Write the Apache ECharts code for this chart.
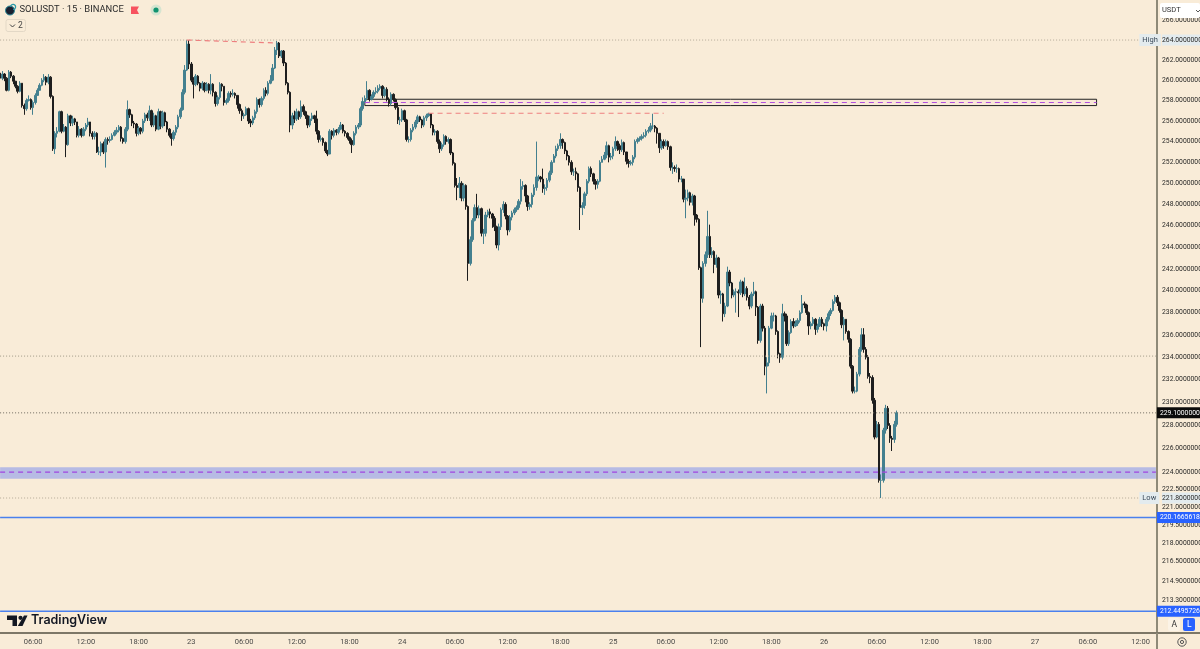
<!DOCTYPE html>
<html>
<head>
<meta charset="utf-8">
<title>SOLUSDT 15m</title>
<style>html,body{margin:0;padding:0;background:#f9ecd8}#chart{width:1200px;height:649px}</style>
<script src="https://cdn.jsdelivr.net/npm/echarts@6/dist/echarts.min.js"></script>
</head>
<body>
<div id="chart"></div>
<script>
// SOLUSDT 15-minute candles, 22 Sep 02:15 to 26 Sep 08:15
const firstOpen = 260.7;
const closes = [
260.2,260.6,260.2,259.0,260.8,260.4,259.9,259.4,258.9,259.7,
257.5,257.2,258.0,258.1,257.3,257.8,258.5,259.0,259.5,260.0,
260.3,259.8,260.3,258.4,253.3,254.8,255.0,256.9,255.0,255.4,
253.7,256.5,255.8,256.2,255.9,254.6,255.2,254.6,255.2,255.6,
255.9,254.8,254.5,254.8,253.0,253.0,253.8,253.0,254.2,254.1,
254.2,254.6,254.9,255.1,255.4,254.3,254.0,255.2,257.1,256.6,
255.8,255.7,254.8,255.3,255.0,256.0,256.6,256.3,257.0,255.6,
256.5,255.2,256.9,255.5,256.8,255.9,255.2,254.6,254.3,254.9,
255.4,256.4,257.1,258.8,261.0,263.6,261.6,260.0,259.6,260.4,
259.7,259.2,259.7,259.0,259.6,259.0,259.6,258.8,257.7,258.3,
259.6,259.4,257.8,258.0,258.7,258.6,258.7,258.5,257.6,257.0,
256.5,256.6,257.2,256.0,255.8,256.3,256.9,258.1,257.6,258.2,
259.0,258.7,259.7,260.0,261.2,263.0,263.7,262.4,262.9,261.7,
259.7,258.8,255.6,256.5,256.2,256.9,256.4,257.4,256.9,256.5,
255.6,256.2,256.5,256.2,255.0,254.2,254.3,253.9,253.1,252.8,
255.0,254.6,255.1,254.9,255.2,255.6,255.0,254.8,254.4,254.1,
253.7,254.8,255.4,255.6,257.2,257.9,258.2,259.0,258.1,258.4,
258.8,258.9,259.2,259.4,258.5,259.1,258.1,257.7,258.6,258.1,
257.3,256.1,256.1,257.0,256.1,254.2,254.2,255.1,255.4,255.9,
256.4,256.1,255.6,256.3,256.5,256.7,255.6,254.9,255.0,254.0,
253.3,253.7,254.5,254.0,254.2,252.9,251.9,249.8,249.6,250.0,
248.6,249.8,247.8,242.5,244.7,246.5,247.7,247.0,247.6,245.3,
245.3,247.0,247.3,247.1,246.7,245.9,244.2,245.9,247.5,248.0,
246.9,245.6,246.8,247.2,247.5,247.7,248.3,249.7,249.8,248.8,
247.8,248.0,248.9,249.6,250.6,250.6,250.4,249.5,249.6,250.3,
251.0,252.0,252.6,253.3,253.6,254.2,253.9,253.1,252.6,252.0,
251.1,251.1,250.9,249.6,247.7,247.9,249.0,250.2,251.4,250.9,
250.2,249.9,250.2,252.0,252.3,252.7,253.6,252.5,252.6,253.3,
254.0,253.6,253.2,253.9,253.0,252.1,251.9,252.0,252.5,254.0,
254.2,254.3,254.5,254.6,255.0,255.1,255.5,255.5,255.3,254.8,
253.4,254.0,253.6,254.0,253.5,251.5,251.5,251.4,251.4,250.4,
250.4,248.5,248.6,249.1,248.2,248.8,247.0,246.6,242.1,239.3,
242.5,243.3,245.0,243.3,243.6,242.4,243.0,239.6,239.7,237.9,
238.6,241.7,240.7,239.6,239.9,239.9,239.8,240.8,239.7,240.2,
239.4,238.6,239.7,239.9,238.5,235.5,238.6,236.6,233.2,233.5,
236.6,237.7,237.7,236.3,234.3,234.0,237.9,237.7,235.2,236.2,
237.2,236.8,237.0,237.3,238.0,238.8,238.7,238.0,236.8,237.0,
237.4,236.5,236.8,237.4,237.0,236.8,237.4,237.9,238.2,239.0,
239.4,238.9,238.2,236.9,237.4,236.3,235.6,233.2,231.0,231.0,
232.5,234.7,236.0,234.7,234.0,232.3,232.2,230.2,227.0,228.1,
223.3,223.3,227.6,229.5,228.0,226.9,226.8,228.1,229.1
];
const highs = [
261.2,260.9,260.7,260.3,261.0,260.9,260.5,259.9,259.5,259.9,
259.7,257.7,258.2,258.5,258.2,258.0,258.7,259.2,259.7,260.2,
260.6,260.4,260.6,260.4,258.5,255.0,255.4,257.0,257.0,255.7,
255.5,256.7,256.6,256.5,256.3,255.9,255.5,255.3,255.4,255.8,
256.3,255.9,255.0,255.0,254.9,253.5,254.0,254.0,254.4,254.4,
254.5,254.8,255.1,255.4,255.6,255.5,254.4,255.4,258.0,257.2,
256.7,256.0,255.8,255.5,255.4,256.2,256.8,256.8,257.5,257.1,
256.8,256.6,257.2,257.0,257.0,256.9,256.0,255.3,254.8,255.1,
255.6,256.6,257.3,259.1,261.5,264.0,264.0,261.8,260.3,260.6,
260.5,259.8,259.9,259.8,259.8,259.7,260.6,259.7,258.9,258.5,
259.8,259.7,259.4,258.2,258.9,258.9,259.1,258.8,258.5,257.7,
257.2,256.8,257.4,257.3,256.2,256.5,257.1,258.3,258.2,258.4,
259.2,259.3,259.9,260.5,261.6,263.3,263.9,263.8,263.0,263.0,
261.8,259.8,258.9,256.8,257.0,257.2,257.0,258.0,257.6,257.0,
256.6,256.5,256.8,256.6,257.0,255.1,254.6,254.4,254.0,253.2,
255.2,255.1,255.3,255.2,255.4,255.9,255.7,255.1,254.9,254.5,
254.3,255.0,255.6,255.8,257.4,258.3,258.5,259.9,259.1,258.6,
259.0,259.3,259.5,259.6,259.5,259.3,259.3,258.3,258.8,258.7,
258.2,257.8,256.4,257.2,257.1,256.2,254.5,255.3,255.7,256.1,
256.6,256.5,256.2,256.5,256.7,256.8,256.7,255.7,255.2,255.1,
254.2,253.9,254.7,254.6,254.4,254.3,253.0,252.0,250.5,250.6,
250.2,250.0,249.9,247.9,245.0,246.7,248.0,249.0,247.9,247.7,
245.7,247.3,247.5,247.6,247.2,246.9,246.0,246.2,247.7,248.3,
248.2,247.0,247.0,247.4,247.7,247.9,248.5,250.4,250.2,249.9,
248.9,248.2,249.1,249.9,254.0,250.8,250.7,251.4,249.9,250.5,
251.2,252.2,252.8,253.6,253.8,254.8,254.3,254.0,253.2,252.7,
252.2,251.4,251.5,251.0,249.7,248.2,249.2,250.4,251.6,251.6,
251.0,250.4,250.4,252.2,252.6,253.0,254.0,253.7,252.9,253.5,
254.5,254.1,253.8,254.2,254.0,253.0,252.3,252.2,252.7,254.2,
254.4,254.5,254.7,254.9,255.2,255.4,255.8,256.7,255.6,255.4,
254.8,254.2,254.2,254.2,254.1,253.6,252.0,251.7,251.8,251.5,
250.7,250.4,249.4,249.4,249.2,249.0,248.9,247.1,246.7,242.2,
242.7,243.6,247.4,246.1,244.0,243.7,243.3,243.1,240.0,239.8,
238.9,242.2,241.9,240.8,240.1,240.2,240.1,241.0,240.9,241.2,
240.4,239.6,239.9,240.8,240.0,238.6,238.8,238.8,236.8,234.0,
236.8,238.0,238.0,237.8,236.4,234.4,238.8,238.1,237.9,236.4,
237.4,237.5,237.3,237.5,238.2,239.6,239.0,238.8,238.1,237.2,
237.6,237.5,237.0,237.6,237.6,237.1,237.6,238.1,238.4,239.2,
239.6,239.6,239.0,238.3,237.6,237.4,236.4,235.7,233.3,231.4,
232.7,234.9,236.6,236.6,234.9,234.2,232.6,232.4,230.4,228.4,
228.3,223.8,227.8,229.8,229.7,228.2,227.1,228.4,229.3
];
const lows = [
260.0,260.0,259.9,258.9,258.9,260.2,259.6,259.2,258.7,258.8,
257.3,256.6,257.0,257.9,257.1,256.6,257.6,258.8,259.3,259.4,
259.8,259.5,259.6,258.2,253.1,252.8,254.4,254.9,254.8,254.9,
252.5,253.6,255.5,255.5,255.6,254.4,254.4,254.4,254.5,255.0,
255.4,254.5,254.2,254.2,252.9,252.7,252.6,252.8,251.5,253.7,
253.9,254.1,254.5,254.7,254.9,254.0,253.8,253.8,255.0,256.3,
255.5,255.3,254.5,254.6,254.7,254.8,255.8,256.0,256.0,255.4,
255.4,255.0,255.1,255.2,255.3,255.5,254.9,254.4,253.6,254.1,
254.6,255.2,256.2,257.0,258.6,260.9,261.1,259.8,258.2,259.4,
259.5,258.9,259.0,258.8,258.9,258.7,258.6,258.4,257.4,257.5,
258.1,258.9,257.5,257.6,257.8,258.3,258.4,258.2,257.2,256.7,
256.0,256.2,256.5,255.7,255.4,255.6,256.1,256.7,257.3,257.4,
258.0,258.4,258.5,259.6,259.9,261.1,262.5,262.2,262.2,261.4,
259.5,258.6,254.9,255.2,255.8,256.0,256.1,256.2,256.6,256.2,
255.3,255.4,256.0,255.8,254.7,253.9,254.0,253.6,252.9,252.6,
252.8,254.2,254.4,254.6,254.7,255.1,254.8,254.5,254.2,253.8,
252.9,253.6,254.6,255.2,255.4,257.0,257.7,258.0,257.9,258.0,
258.2,258.6,258.7,259.0,258.2,258.3,257.9,257.4,257.5,257.9,
257.1,255.7,255.6,255.9,255.9,254.0,253.9,254.0,254.9,255.2,
255.7,255.9,255.3,255.4,256.0,256.4,255.3,254.6,254.6,253.8,
252.9,253.1,253.5,253.7,253.8,252.7,251.7,249.6,248.4,248.6,
248.3,248.3,247.5,240.9,242.3,244.5,246.4,246.7,246.7,245.0,
244.3,245.0,246.8,246.7,245.8,245.5,243.9,243.7,245.6,247.2,
246.6,245.1,245.4,246.5,247.0,247.3,247.5,248.0,249.4,248.2,
247.4,247.5,247.7,248.7,249.3,250.2,250.1,249.1,248.9,249.3,
250.1,250.8,252.2,252.4,253.1,253.3,253.3,252.8,252.2,251.7,
250.8,250.7,250.3,249.2,245.6,247.0,247.6,248.8,250.0,250.6,
249.9,249.4,249.5,250.1,252.0,252.2,252.4,252.0,252.2,252.3,
253.1,253.1,252.8,253.0,252.7,251.8,251.5,251.7,251.7,252.3,
253.8,254.0,254.1,254.3,254.4,254.8,254.9,255.2,254.9,253.8,
252.9,253.2,253.3,253.5,253.2,251.2,250.9,251.1,251.0,250.1,
250.1,248.2,246.7,248.3,247.9,247.9,246.0,246.3,241.9,234.9,
238.9,242.2,243.0,243.0,243.0,241.6,242.1,239.3,238.8,237.2,
237.6,238.5,240.4,239.3,239.4,238.0,237.6,239.6,239.4,239.5,
239.1,238.3,238.4,239.5,237.7,235.2,235.3,236.3,232.4,230.8,
233.2,236.5,237.2,236.0,233.9,233.5,233.8,237.2,235.0,235.0,
236.1,236.6,236.7,236.8,237.1,237.9,238.4,237.8,236.0,236.5,
236.8,236.0,236.2,236.7,236.7,236.4,236.3,237.2,237.7,238.1,
238.8,238.6,238.0,236.6,235.5,236.1,235.3,233.0,230.8,230.8,
230.9,232.3,234.5,234.4,233.8,232.1,231.7,229.9,226.8,226.9,
223.1,221.8,223.1,227.3,227.7,226.5,225.8,226.5,227.9
];

// Price scale ticks (the scale is logarithmic, with extra ticks near the low)
const priceTicks = [266,264,262,260,258,256,254,252,250,248,246,244,242,240,238,236,234,232,230,228,226,224,222.5,221.8,221,219.5,218,216.5,214.9,213.3];
const highlightedTicks = [264,221.8];

// Key levels
const sessionHigh = 264, sessionLow = 221.8, lastPrice = 229.1;
const midLevel = 234.1;
const supportZone = [224.42, 223.43], supportMid = 224;
const supplyBox = [258.12, 257.5], supplyMid = 257.8;
const fibA = 220.1665618, fibB = 212.4495726;

// Time axis: one slot per 15 minutes, starting at 22nd 02:15
const slotCount = 527;
const slots = [];
for (let i = 0; i < slotCount; i++) {
  const minutes = 2 * 60 + 15 + i * 15;
  const day = 22 + Math.floor(minutes / 1440);
  const m = minutes % 1440;
  const hh = String(Math.floor(m / 60)).padStart(2, '0');
  const mm = String(m % 60).padStart(2, '0');
  slots.push(day + ' ' + hh + ':' + mm);
}
function timeLabel(slot) {
  const [day, hm] = slot.split(' ');
  if (hm === '00:00') return day;
  return ['06:00', '12:00', '18:00'].includes(hm) ? hm : '';
}

const candles = closes.map((c, i) => {
  const o = i ? closes[i - 1] : firstOpen;
  return [o, c, Math.min(lows[i], o, c), Math.max(highs[i], o, c)];
});

const lastSlot = slotCount - 1;
const dotted = (color) => ({ type: [1, 2], color, width: 1 });
const dashed = (color) => ({ type: [5, 4], color, width: 1.2 });
const solid = (color) => ({ type: 'solid', color, width: 1.4 });
const tag = (bg, fg, text) => ({
  show: true, distance: 1, formatter: text, color: fg, backgroundColor: bg,
  fontFamily: 'Roboto', fontSize: 6.8, padding: [2, 8, 2, 3]
});
const sideNote = (text) => ({
  show: true, distance: 1, formatter: text, color: '#3b4a5a', backgroundColor: '#e3ebee',
  fontFamily: 'Roboto', fontSize: 7.5, padding: [2, 3, 2, 3]
});
// A straight annotation between two points on the price scale
const segment = (x0, v0, x1, v1, lineStyle, label) => ({
  type: 'line',
  data: [[x0, v0], [x1, v1]],
  symbol: 'none',
  silent: true,
  animation: false,
  lineStyle,
  endLabel: label || { show: false },
  labelLayout: { hideOverlap: false }
});

const chart = echarts.init(document.getElementById('chart'), null, { renderer: 'canvas' });
chart.setOption({
  animation: false,
  backgroundColor: '#f9ecd8',
  grid: { left: -1, right: 43, top: 0, bottom: 16, outerBoundsMode: 'none', containLabel: false },
  xAxis: {
    type: 'category',
    data: slots,
    boundaryGap: true,
    axisLine: { lineStyle: { color: '#7d7767', width: 2 } },
    axisTick: { show: false },
    splitLine: { show: false },
    axisLabel: {
      interval: (i, v) => timeLabel(v) !== '',
      formatter: timeLabel,
      color: '#4a4a48',
      fontFamily: 'Roboto',
      fontSize: 7.5,
      margin: 5,
      hideOverlap: false
    }
  },
  yAxis: {
    type: 'log',
    logBase: 10,
    position: 'right',
    min: 210.7,
    max: 268.05,
    axisLine: { show: true, onZero: false, lineStyle: { color: '#8f8a78', width: 2 } },
    axisTick: { show: false },
    splitLine: { show: false },
    minorTick: { show: false },
    axisLabel: {
      customValues: priceTicks,
      formatter: (v) => {
        const t = Number(v).toFixed(7);
        return highlightedTicks.some((h) => Math.abs(h - v) < 0.01) ? '{hl|' + t + '}' : t;
      },
      rich: { hl: { backgroundColor: '#e3ebee', color: '#2a2a28', fontFamily: 'Roboto', fontSize: 6.8, padding: [2, 0, 2, 0] } },
      color: '#2a2a28',
      fontFamily: 'Roboto',
      fontSize: 6.8,
      margin: 5,
      showMinLabel: true,
      showMaxLabel: true
    }
  },
  series: [
    {
      type: 'candlestick',
      data: candles,
      barWidth: 2,
      itemStyle: {
        color: '#44808f',
        color0: '#1e1e1e',
        borderColor: '#44808f',
        borderColor0: '#1e1e1e',
        borderWidth: 1
      },
      markArea: {
        silent: true,
        data: [
          [{ coord: [0, supportZone[0]], itemStyle: { color: '#b7bbe4' } }, { coord: [lastSlot, supportZone[1]] }],
          [{ coord: [166, supplyBox[0]], itemStyle: { color: 'rgba(249,225,215,0.4)', borderColor: '#222', borderWidth: 1 } }, { coord: [499, supplyBox[1]] }]
        ]
      }
    },
    segment(0, sessionHigh, 518, sessionHigh, dotted('#b3aa98'), sideNote('High')),
    segment(0, sessionLow, 518, sessionLow, dotted('#b3aa98'), sideNote('Low')),
    segment(0, midLevel, lastSlot, midLevel, dotted('#a09886')),
    segment(0, lastPrice, lastSlot, lastPrice, dotted('#6e6a5f'), tag('#0b0b0b', '#ffffff', lastPrice.toFixed(7))),
    segment(0, supportMid, lastSlot, supportMid, dashed('#a145e0')),
    segment(166, supplyMid, 499, supplyMid, dashed('#b14fe0')),
    segment(0, fibA, lastSlot, fibA, solid('#4a80ee'), tag('#2962ff', '#ffffff', fibA.toFixed(7))),
    segment(0, fibB, lastSlot, fibB, solid('#4a80ee'), tag('#2962ff', '#ffffff', fibB.toFixed(7))),
    segment(85, 264, 126, 263.7, dashed('#ee7f7f')),
    segment(195, 256.75, 302, 256.75, dashed('#ee7f7f'))
  ],
  graphic: [
    // Symbol row
    { type: 'circle', z: 50, shape: { cx: 10, cy: 10.5, r: 4.5 }, style: { fill: '#1a2030', stroke: '#2a8a9a', lineWidth: 1 } },
    { type: 'arc', z: 50, shape: { cx: 13, cy: 7, r: 2.6, startAngle: -3, endAngle: 1.5 }, style: { stroke: '#2a9aa8', fill: 'none', lineWidth: 1.2 } },
    { type: 'text', z: 50, x: 19.5, y: 5, style: { text: 'SOLUSDT · 15 · BINANCE', fill: '#2b2b2b', font: '9.4px Roboto' } },
    { type: 'polygon', z: 50, shape: { points: [[131, 6.5], [139, 6.5], [137, 10], [139, 14], [131, 14]] }, style: { fill: '#f7525f' } },
    { type: 'circle', z: 50, shape: { cx: 156, cy: 10, r: 5.5 }, style: { fill: '#d5e4d0' } },
    { type: 'circle', z: 50, shape: { cx: 156, cy: 10, r: 2.6 }, style: { fill: '#11936f' } },
    { type: 'rect', z: 50, shape: { x: 6, y: 19.5, width: 19.5, height: 12, r: 2 }, style: { fill: '#f9ecd8', stroke: '#e3d8c6', lineWidth: 1 } },
    { type: 'polyline', z: 50, shape: { points: [[10, 24.5], [12.5, 27], [15, 24.5]] }, style: { stroke: '#444', fill: 'none', lineWidth: 1 } },
    { type: 'text', z: 50, x: 18, y: 21, style: { text: '2', fill: '#444', font: '8.5px Roboto' } },

    // Currency selector
    { type: 'rect', z: 50, shape: { x: 1160, y: 3, width: 40, height: 15, r: 2 }, style: { fill: '#ffffff' } },
    { type: 'text', z: 51, x: 1162, y: 6.5, style: { text: 'USDT', fill: '#333', font: '7.5px Roboto' } },
    { type: 'polyline', z: 51, shape: { points: [[1196, 10], [1198, 12], [1200, 10]] }, style: { stroke: '#555', fill: 'none', lineWidth: 1 } },

    // Wordmark
    { type: 'polygon', z: 50, shape: { points: [[7, 615.5], [17, 615.5], [17, 626], [12.5, 626], [12.5, 620], [7, 620]] }, style: { fill: '#131722' } },
    { type: 'circle', z: 50, shape: { cx: 20.5, cy: 617.8, r: 2.1 }, style: { fill: '#131722' } },
    { type: 'polygon', z: 50, shape: { points: [[24, 615.5], [27.5, 615.5], [22.5, 626], [17.8, 626]] }, style: { fill: '#131722' } },
    { type: 'text', z: 50, x: 31, y: 614, style: { text: 'TradingView', fill: '#131722', font: '600 12.5px Inter' } },

    // Scale buttons and axis corner
    { type: 'rect', z: 50, shape: { x: 1168, y: 618, width: 12, height: 13, r: 2 }, style: { fill: '#fbf3e6' } },
    { type: 'text', z: 51, x: 1171.5, y: 620.5, style: { text: 'A', fill: '#333', font: '8.5px Roboto' } },
    { type: 'rect', z: 50, shape: { x: 1183, y: 618, width: 12, height: 13, r: 2 }, style: { fill: '#2962ff' } },
    { type: 'text', z: 51, x: 1187, y: 620.5, style: { text: 'L', fill: '#ffffff', font: '8.5px Roboto' } },
    { type: 'line', z: 40, shape: { x1: 1157, y1: 633, x2: 1200, y2: 633 }, style: { stroke: '#7d7767', lineWidth: 2 } },
    { type: 'line', z: 40, shape: { x1: 1157, y1: 633, x2: 1157, y2: 649 }, style: { stroke: '#8f8a78', lineWidth: 2 } },
    { type: 'circle', z: 50, shape: { cx: 1182, cy: 642, r: 4.2 }, style: { fill: 'none', stroke: '#555', lineWidth: 1 } },
    { type: 'circle', z: 50, shape: { cx: 1182, cy: 642, r: 1.6 }, style: { fill: 'none', stroke: '#555', lineWidth: 1 } }
  ]
});
</script>
</body>
</html>
